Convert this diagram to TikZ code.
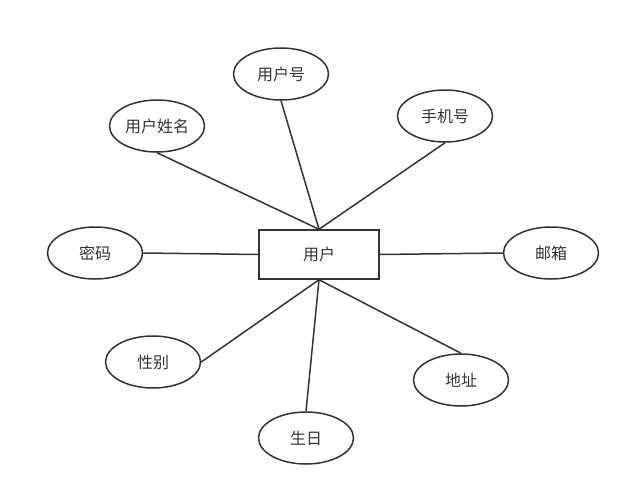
\documentclass[tikz,border=0pt]{standalone}
\usepackage{fontspec}
\setmainfont{Noto Sans CJK SC}
\usepackage{tikz}
\usetikzlibrary{positioning,shapes.geometric}
\definecolor{linecolor}{RGB}{51,51,51}
\tikzset{
  entitybox/.style={
    draw=linecolor, line width=1.5pt, fill=white,
    minimum width=120pt, minimum height=49pt,
    font=\fontsize{16}{19}\selectfont, text=linecolor, inner sep=0pt
  },
  attrnode/.style={
    ellipse, draw=linecolor, line width=1.5pt, fill=white,
    minimum width=95pt, minimum height=52pt,
    font=\fontsize{16}{19}\selectfont, text=linecolor, inner sep=0pt
  },
  link/.style={
    draw=linecolor, line width=1.5pt
  }
}
\begin{document}
\begin{tikzpicture}[x=1pt, y=-1pt]
    \useasboundingbox (0,0) rectangle (631,496);

    % entity
    \node[entitybox] (user) at (319,254.5) {用户};

    % attributes
    \node[attrnode] (uid)   at (281,74)  {用户号};
    \node[attrnode] (uname) at (157,126) {用户姓名};
    \node[attrnode] (phone) at (445,116) {手机号};
    \node[attrnode] (pwd)   at (95,253)  {密码};
    \node[attrnode] (mail)  at (551,253) {邮箱};
    \node[attrnode] (sex)   at (153,362) {性别};
    \node[attrnode] (addr)  at (461,380) {地址};
    \node[attrnode] (birth) at (306,438) {生日};

    \draw[link] (uname.south) -- (user.north);
    \draw[link] (uid.south) -- (user.north);
    \draw[link] (phone.south) -- (user.north);
    \draw[link] (pwd.east) -- (user.west);
    \draw[link] (mail.west) -- (user.east);
    \draw[link] (sex.east) -- (user.south);
    \draw[link] (addr.north) -- (user.south);
    \draw[link] (birth.north) -- (user.south);

\end{tikzpicture}
\end{document}
